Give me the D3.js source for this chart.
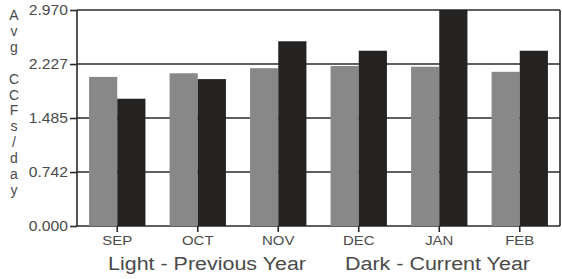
<!DOCTYPE html>
<html>
<head>
<meta charset="utf-8">
<script src="https://cdn.jsdelivr.net/npm/d3@7"></script>
<style>
  body { margin: 0; background: #fff; }
  text { font-family: "Liberation Sans", Arial, sans-serif; fill: #4a4a4a; }
</style>
</head>
<body>
<div id="chart"></div>
<script>
// Data
const months = ["SEP", "OCT", "NOV", "DEC", "JAN", "FEB"];
const previousYear = [2.05, 2.10, 2.17, 2.20, 2.19, 2.12];
const currentYear = [1.75, 2.02, 2.54, 2.41, 2.97, 2.41];
const yTicks = [0.000, 0.742, 1.485, 2.227, 2.970];
const yTitle = ["A", "v", "g", "", "C", "C", "F", "s", "/", "d", "a", "y"];

const width = 562, height = 279;
const margin = { top: 10, right: 2, bottom: 53, left: 77 };

const svg = d3.select("#chart").append("svg")
  .attr("width", width)
  .attr("height", height);

const x = d3.scaleBand()
  .domain(months)
  .range([margin.left, width - margin.right])
  .paddingInner(0.3)
  .paddingOuter(0.15);

const sub = d3.scaleBand()
  .domain(["prev", "cur"])
  .range([0, x.bandwidth()]);

const y = d3.scaleLinear()
  .domain([0, 2.970])
  .range([height - margin.bottom, margin.top]);

// gridlines
svg.append("g")
  .selectAll("line")
  .data(yTicks)
  .join("line")
  .attr("x1", margin.left)
  .attr("x2", width - margin.right)
  .attr("y1", d => y(d))
  .attr("y2", d => y(d))
  .attr("stroke", "#2a2a2a")
  .attr("stroke-width", 1.6);

// bars
const groups = svg.append("g")
  .selectAll("g")
  .data(months)
  .join("g")
  .attr("transform", d => `translate(${x(d)},0)`);

groups.append("rect")
  .attr("x", sub("prev"))
  .attr("width", sub.bandwidth())
  .attr("y", (d, i) => y(previousYear[i]))
  .attr("height", (d, i) => y(0) - y(previousYear[i]))
  .attr("fill", "#888888");

groups.append("rect")
  .attr("x", sub("cur"))
  .attr("width", sub.bandwidth())
  .attr("y", (d, i) => y(currentYear[i]))
  .attr("height", (d, i) => y(0) - y(currentYear[i]))
  .attr("fill", "#252222");

// frame left and right
svg.append("line")
  .attr("x1", margin.left).attr("x2", margin.left)
  .attr("y1", margin.top).attr("y2", y(0))
  .attr("stroke", "#2a2a2a").attr("stroke-width", 1.6);
svg.append("line")
  .attr("x1", width - margin.right).attr("x2", width - margin.right)
  .attr("y1", margin.top).attr("y2", y(0))
  .attr("stroke", "#2a2a2a").attr("stroke-width", 1.6);

// y axis
const yAxis = svg.append("g")
  .attr("transform", `translate(${margin.left},0)`)
  .call(d3.axisLeft(y).tickValues(yTicks).tickFormat(d3.format(".3f")).tickSize(7).tickPadding(2));
yAxis.select(".domain").remove();
yAxis.selectAll("line").attr("stroke", "#2a2a2a").attr("stroke-width", 1.6);
yAxis.selectAll("text")
  .attr("x", null)
  .attr("transform", "translate(-9,0) scale(1.12,1)")
  .attr("font-size", 14)
  .style("fill", "#4a4a4a");

// x axis
const xAxis = svg.append("g")
  .attr("transform", `translate(0,${y(0)})`)
  .call(d3.axisBottom(x).tickSize(6).tickPadding(4));
xAxis.select(".domain").remove();
xAxis.selectAll("line").attr("stroke", "#2a2a2a").attr("stroke-width", 1.6);
xAxis.selectAll("text")
  .attr("transform", "scale(1.15,1)")
  .attr("font-size", 13)
  .style("fill", "#4a4a4a");

// y title, stacked letters
svg.append("g")
  .selectAll("text")
  .data(yTitle)
  .join("text")
  .attr("x", 14)
  .attr("y", (d, i) => 20 + i * 15.9)
  .attr("text-anchor", "middle")
  .attr("font-size", 14)
  .text(d => d);

// legend text
svg.append("text")
  .attr("x", 108)
  .attr("y", 270)
  .attr("font-size", 18)
  .attr("textLength", 198)
  .attr("lengthAdjust", "spacingAndGlyphs")
  .text("Light - Previous Year");
svg.append("text")
  .attr("x", 345)
  .attr("y", 270)
  .attr("font-size", 18)
  .attr("textLength", 185)
  .attr("lengthAdjust", "spacingAndGlyphs")
  .text("Dark - Current Year");
</script>
</body>
</html>
